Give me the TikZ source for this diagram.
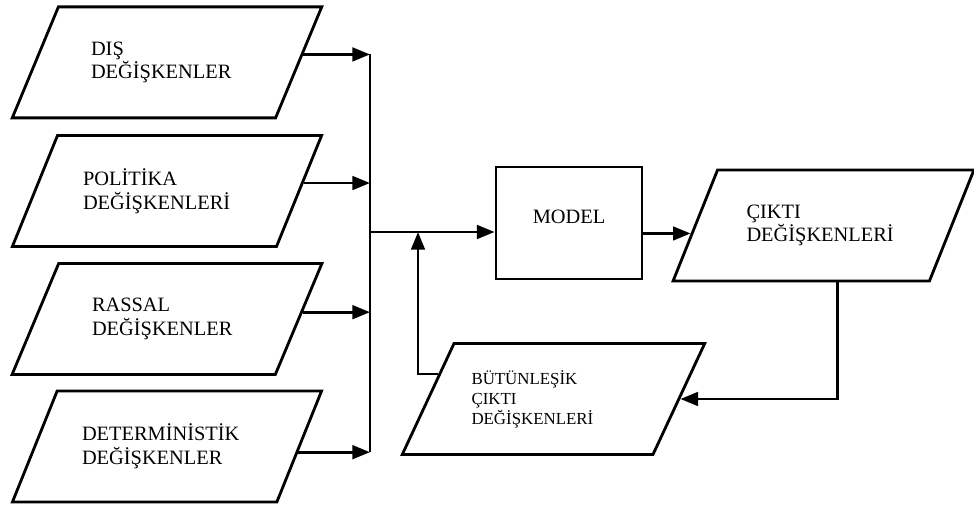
\documentclass[tikz,border=0pt]{standalone}
\usepackage{fontspec}
\setmainfont{Liberation Serif}
\usetikzlibrary{shapes.geometric, arrows.meta, positioning, calc}

\begin{document}
\begin{tikzpicture}[
			every node/.style={font=\fontsize{14.5}{16.8}\selectfont},
			databox/.style={
				trapezium,
				trapezium left angle=56,
				trapezium right angle=124,
				trapezium stretches=true,
				minimum width=7.75cm,
				minimum height=2.775cm,
				align=left,
				draw=black,
				line width=2pt
			},
			process/.style={
				rectangle,
				minimum width=3.65cm,
				minimum height=2.8cm,
				text depth=0.3cm,
				text centered,
				draw=black,
				line width=2pt
			},
			arrow/.style={line width=2pt,-{Triangle[length=0.44cm,width=0.34cm]}}
			]
			\useasboundingbox (0,0) rectangle (24.35,12.75);
			
			% Nodes
			\node (dis) [databox, text width=3.8cm] at (4.175,11.19) {DIŞ\\DEĞİŞKENLER};
			\node (politika) [databox, text width=4.2cm] at (4.175,7.975) {POLİTİKA\\DEĞİŞKENLERİ};
			\node (rassal) [databox, text width=3.75cm] at (4.175,4.775) {RASSAL\\DEĞİŞKENLER};
			\node (determ) [databox, text width=4.25cm] at (4.175,1.5875) {DETERMİNİSTİK\\DEĞİŞKENLER};
			
			\node (model) [process] at (14.225,7.175) {MODEL};
			\node (cikti) [databox, minimum width=7.525cm, text width=3.85cm] at (20.5875,7.1125) {ÇIKTI\\DEĞİŞKENLERİ};
			\node (butun) [databox, minimum width=7.575cm, text width=4.1cm, font=\fontsize{12}{14.2}\selectfont] at (13.8375,2.775)
			{BÜTÜNLEŞİK\\ÇIKTI\\DEĞİŞKENLERİ};
			
			\coordinate (bus) at (9.25,0);
			\coordinate (join) at (9.25,6.95);
			\coordinate (merge) at (10.45,6.95);
			\coordinate (disout) at ($(dis.bottom right corner)!0.57!(dis.top right corner)$);
			\coordinate (politikaout) at ($(politika.bottom right corner)!0.57!(politika.top right corner)$);
			\coordinate (rassalout) at ($(rassal.bottom right corner)!0.56!(rassal.top right corner)$);
			\coordinate (determout) at ($(determ.bottom right corner)!0.45!(determ.top right corner)$);
			\coordinate (ciktiin) at ($(cikti.bottom left corner)!0.43!(cikti.top left corner)$);
			\coordinate (butunout) at ($(butun.bottom left corner)!0.72!(butun.top left corner)$);
			
			% Arrows
			\draw [arrow] (disout) -- (disout -| bus);
			\draw [arrow] (politikaout) -- (politikaout -| bus);
			\draw [arrow] (rassalout) -- (rassalout -| bus);
			\draw [arrow] (determout) -- (determout -| bus);
			\draw [line width=2pt] (disout -| bus) -- (determout -| bus);
			\draw [arrow] (join) -- (join -| model.west);
			\draw [arrow] (model.east |- ciktiin) -- (ciktiin);
			\draw [arrow] ([xshift=0.35cm]cikti.south) |- (butun.east);
			\draw [arrow] (butunout) -| (merge);
			
		\end{tikzpicture}
\end{document}
